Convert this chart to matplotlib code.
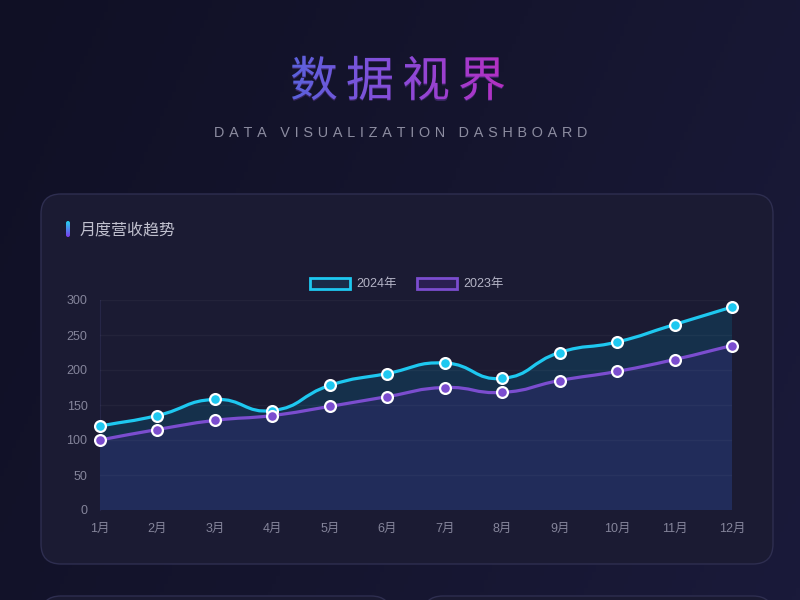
import numpy as np
import matplotlib
matplotlib.use('Agg')
import matplotlib.pyplot as plt
import matplotlib.colors as mcolors
from matplotlib.path import Path
from matplotlib.patches import PathPatch, FancyBboxPatch, Patch
from matplotlib.textpath import TextPath
from matplotlib.font_manager import FontProperties

# data
months = ['1月', '2月', '3月', '4月', '5月', '6月', '7月', '8月', '9月', '10月', '11月', '12月']
rev_2024 = [120, 135, 158, 142, 178, 195, 210, 188, 225, 240, 265, 290]
rev_2023 = [100, 115, 128, 135, 148, 162, 175, 168, 185, 198, 215, 235]
y_ticks = [0, 50, 100, 150, 200, 250, 300]
series_names = ['2024年', '2023年']
title = '数据视界'
subtitle = 'DATA VISUALIZATION DASHBOARD'
panel_title = '月度营收趋势'

plt.rcParams['font.family'] = ['Noto Sans CJK SC', 'DejaVu Sans']
tick_fonts = ['Liberation Sans', 'Noto Sans CJK SC', 'DejaVu Sans']

W, H = 800, 600
fig = plt.figure(figsize=(8, 6), dpi=100)

# background layer in pixel coords (y up)
bg = fig.add_axes([0, 0, 1, 1])
bg.set_xlim(0, W)
bg.set_ylim(0, H)
bg.axis('off')

gx, gy = np.meshgrid(np.linspace(0, 1, 200), np.linspace(0, 1, 150))
bg_cmap = mcolors.LinearSegmentedColormap.from_list('bg', ['#101025', '#15152e', '#1a1a3a'])
bg.imshow(gx * 0.75 + gy * 0.25, cmap=bg_cmap, extent=(0, W, 0, H), origin='upper', aspect='auto', zorder=0)

# cards
card = FancyBboxPatch((41, H - 564), 732, 370, boxstyle='round,pad=0,rounding_size=20',
                      fc='#1b1b33', ec='#2e2e50', lw=1, zorder=1)
bg.add_patch(card)
for x0, w in [(41, 350), (423, 350)]:
    bg.add_patch(FancyBboxPatch((x0, -40), w, 44, boxstyle='round,pad=0,rounding_size=20',
                                fc='#1a1a32', ec='#2e2e50', lw=1, zorder=1))

# title with gradient fill (letter spaced)
title_spaced = '\u2006'.join(title)
title_fonts = ['Noto Sans CJK SC', 'DejaVu Sans']
fp = FontProperties(family=title_fonts, size=48)
tp0 = TextPath((0, 0), title_spaced, prop=fp)
e = tp0.get_extents()
tx = 398 - (e.x0 + e.x1) / 2
ty = (H - 78) - (e.y0 + e.y1) / 2
bg.text(tx, ty, title_spaced, fontsize=48 * 0.72, color='#8a4cd9', alpha=0.3, ha='left',
        va='baseline', family=title_fonts, zorder=2)
tp = TextPath((tx, ty), title_spaced, prop=fp)
clip = PathPatch(tp, fc='none', lw=0, transform=bg.transData)
bg.add_patch(clip)
te = tp.get_extents()
title_cmap = mcolors.LinearSegmentedColormap.from_list('tt', ['#5a62dc', '#8a4cd9', '#b52fc2'])
im = bg.imshow(np.linspace(0, 1, 256)[None, :], cmap=title_cmap,
               extent=(te.x0 - 2, te.x1 + 2, te.y0 - 2, te.y1 + 2), aspect='auto', zorder=3)
im.set_clip_path(clip)

# subtitle with letter spacing
sp = '\u2004'
spaced = (sp + ' ' + sp).join(sp.join(word) for word in subtitle.split(' '))
bg.text(401, H - 133, spaced, fontsize=10.4, color='#8c8ca0', ha='center', va='center',
        family=['Liberation Sans', 'DejaVu Sans'], zorder=2)

# panel title + accent bar
bar = FancyBboxPatch((66, H - 237), 4, 16, boxstyle='round,pad=0,rounding_size=2',
                     fc='none', lw=0, transform=bg.transData)
bg.add_patch(bar)
bar_cmap = mcolors.LinearSegmentedColormap.from_list('bar', ['#22d3ee', '#7c3aed'])
bim = bg.imshow(np.linspace(0, 1, 64)[:, None], cmap=bar_cmap, extent=(66, 70, H - 237, H - 221),
                origin='upper', aspect='auto', zorder=3)
bim.set_clip_path(bar)
bg.text(80, H - 231, panel_title, fontsize=11.5, color='#c0c0ce', ha='left', va='center', zorder=3)
bg.set_xlim(0, W)
bg.set_ylim(0, H)

# chart axes
ax = fig.add_axes([100 / W, 90 / H, 632 / W, 210 / H])
ax.patch.set_alpha(0)
ax.set_xlim(0, len(months) - 1)
ax.set_ylim(0, 300)
sx = 632 / (len(months) - 1)
sy = 210 / 300


def smooth_verts(ys, smooth=0.5):
    px = np.arange(len(ys)) * sx
    py = np.array(ys, dtype=float) * sy
    n = len(px)
    cin, cout = [], []
    for i in range(n):
        a, b = max(i - 1, 0), min(i + 1, n - 1)
        vx = (px[b] - px[a]) * smooth
        vy = (py[b] - py[a]) * smooth
        d0 = np.hypot(px[i] - px[a], py[i] - py[a])
        d1 = np.hypot(px[b] - px[i], py[b] - py[i])
        r = d1 / (d0 + d1)
        cin.append((px[i] - vx * (1 - r), py[i] - vy * (1 - r)))
        cout.append((px[i] + vx * r, py[i] + vy * r))
    verts = [(px[0], py[0])]
    codes = [Path.MOVETO]
    for i in range(n - 1):
        verts += [cout[i], cin[i + 1], (px[i + 1], py[i + 1])]
        codes += [Path.CURVE4] * 3
    verts = np.array(verts) / [sx, sy]
    return verts, codes


series = [
    (rev_2024, '#1ec8f0', '#15304b', '#1a2c48'),
    (rev_2023, '#7b4dcf', '#212c5a', '#2a1f52'),
]

for k, (vals, col, fill_col, _) in enumerate(series):
    verts, codes = smooth_verts(vals)
    n = len(vals)
    fverts = np.vstack([verts, [[n - 1, 0], [0, 0], [0, 0]]])
    fcodes = codes + [Path.LINETO, Path.LINETO, Path.CLOSEPOLY]
    ax.add_patch(PathPatch(Path(fverts, fcodes), fc=fill_col, lw=0, zorder=1 + k))

for k, (vals, col, fill_col, _) in enumerate(series):
    verts, codes = smooth_verts(vals)
    ax.add_patch(PathPatch(Path(verts, codes), fc='none', ec=col, lw=2.3, capstyle='round',
                           joinstyle='round', zorder=5, clip_on=False))
    ax.plot(range(len(vals)), vals, 'o', ms=7.8, mfc=col, mec='white', mew=1.6,
            zorder=6, clip_on=False)

for yv in y_ticks[1:]:
    ax.axhline(yv, color='white', alpha=0.035, lw=1, zorder=4)

ax.set_xticks(range(len(months)))
ax.set_xticklabels(months, family=tick_fonts)
ax.set_yticks(y_ticks)
ax.set_yticklabels([str(v) for v in y_ticks], family=tick_fonts)
ax.tick_params(length=0, labelsize=9, labelcolor='#85859b')
ax.tick_params(axis='x', pad=9)
ax.tick_params(axis='y', pad=9)
for s in ['top', 'right', 'bottom']:
    ax.spines[s].set_visible(False)
ax.spines['left'].set_color('#262647')
ax.spines['left'].set_zorder(0.5)

handles = [Patch(fc=s[3], ec=s[1], lw=2, label=name) for s, name in zip(series, series_names)]
ax.legend(handles=handles, loc='center', bbox_to_anchor=(0.486, 1 + 16 / 210), ncol=2,
          frameon=False, prop={'family': tick_fonts, 'size': 9}, labelcolor='#b4b4c6',
          handlelength=3.2, handleheight=1.0, handletextpad=0.5, columnspacing=1.6)

fig.savefig('out.png', dpi=100, facecolor='#14142b')
